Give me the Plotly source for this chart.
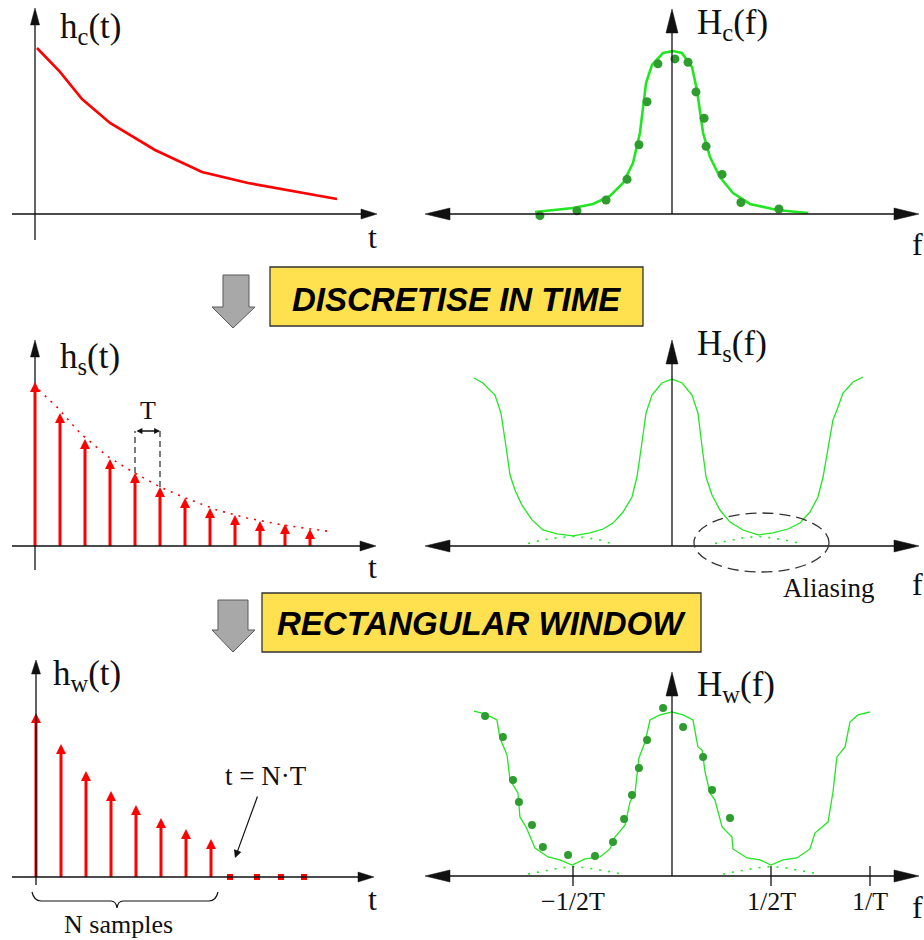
import plotly.graph_objects as go

W, H = 924, 940

# ---------------- data ----------------
# (1) continuous impulse response h_c(t); t in units of T, amplitude normalised
hc_t = [0.08, 1.0, 1.88, 3.0, 4.8, 6.68, 8.52, 12.08]
hc_v = [1.006, 0.861, 0.697, 0.552, 0.388, 0.255, 0.188, 0.091]

# (2) spectrum H_c(f); f in units of 1/T
Hc_f = [-0.692, -0.5, -0.399, -0.313, -0.247, -0.197, -0.162, -0.131, -0.101, -0.045,
        0.005, 0.05, 0.101, 0.126, 0.157, 0.192, 0.242, 0.308, 0.394, 0.53, 0.687]
Hc_v = [0.012, 0.036, 0.061, 0.109, 0.188, 0.309, 0.491, 0.794, 0.903, 0.976,
        0.988, 0.976, 0.891, 0.752, 0.491, 0.345, 0.224, 0.127, 0.061, 0.024, 0.006]
Hc_dot_f = [-0.667, -0.48, -0.333, -0.227, -0.167, -0.126, -0.071, 0.015, 0.081,
            0.121, 0.162, 0.172, 0.253, 0.348, 0.54]
Hc_dot_v = [-0.01, 0.02, 0.085, 0.21, 0.42, 0.68, 0.91, 0.94, 0.92,
            0.74, 0.58, 0.41, 0.24, 0.07, 0.03]

# (3) sampled response h_s(nT)
hs_n = [0, 1, 2, 3, 4, 5, 6, 7, 8, 9, 10, 11]
hs_v = [0.994, 0.806, 0.648, 0.527, 0.442, 0.358, 0.291, 0.230, 0.188, 0.152, 0.133, 0.103]
env_t = [0.16, 0.92, 1.8, 2.88, 3.92, 5.0, 5.92, 7.28, 8.48, 9.92, 11.92]
env_v = [0.945, 0.836, 0.685, 0.545, 0.448, 0.358, 0.297, 0.218, 0.17, 0.127, 0.085]

# (4) periodic spectrum H_s(f)
Hs_f = [-1.0, -0.955, -0.894, -0.864, -0.838, -0.818, -0.793, -0.758, -0.707, -0.652,
        -0.581, -0.5, -0.414, -0.348, -0.298, -0.247, -0.202, -0.177, -0.157, -0.131,
        -0.101, -0.051, 0.0, 0.051, 0.101, 0.131, 0.152, 0.172, 0.202, 0.242,
        0.293, 0.359, 0.434, 0.51, 0.586, 0.646, 0.697, 0.737, 0.763, 0.788,
        0.813, 0.833, 0.864, 0.914, 0.965]
Hs_v = [1.018, 0.988, 0.915, 0.806, 0.6, 0.43, 0.339, 0.248, 0.158, 0.097,
        0.073, 0.061, 0.079, 0.103, 0.139, 0.206, 0.297, 0.418, 0.582, 0.806,
        0.915, 0.988, 1.012, 0.988, 0.915, 0.806, 0.6, 0.418, 0.309, 0.218,
        0.145, 0.097, 0.067, 0.079, 0.103, 0.139, 0.206, 0.297, 0.418, 0.594,
        0.764, 0.824, 0.927, 0.994, 1.024]
Hs_tail_left_f = [-0.727, -0.66, -0.58, -0.5, -0.43, -0.36, -0.308]
Hs_tail_right_f = [0.217, 0.29, 0.36, 0.434, 0.5, 0.575, 0.646]
Hs_tail_v = [0.015, 0.035, 0.05, 0.058, 0.05, 0.035, 0.015]

# (5) windowed response h_w(nT)
hw_n = [0, 1, 2, 3, 4, 5, 6, 7]
hw_v = [0.994, 0.806, 0.642, 0.521, 0.436, 0.358, 0.291, 0.230]
hw_zero_t = [7.76, 8.84, 9.8, 10.72]
hw_zero_v = [0, 0, 0, 0]

# (6) spectrum H_w(f) with ripple
Hw_f = [-1.0, -0.944, -0.884, -0.869, -0.833, -0.818, -0.778, -0.768, -0.737, -0.692,
        -0.626, -0.566, -0.505, -0.439, -0.364, -0.313, -0.288, -0.237, -0.212, -0.187,
        -0.167, -0.136, -0.111, -0.061, 0.0, 0.056, 0.106, 0.131, 0.152, 0.167,
        0.192, 0.217, 0.253, 0.303, 0.308, 0.379, 0.444, 0.5, 0.561, 0.631,
        0.697, 0.722, 0.788, 0.813, 0.833, 0.874, 0.899, 0.939, 1.0]
Hw_v = [1.006, 0.988, 0.951, 0.841, 0.738, 0.585, 0.506, 0.36, 0.299, 0.171,
        0.116, 0.098, 0.067, 0.104, 0.116, 0.165, 0.238, 0.311, 0.451, 0.506,
        0.72, 0.817, 0.951, 0.982, 1.0, 0.982, 0.951, 0.787, 0.768, 0.634,
        0.506, 0.463, 0.299, 0.238, 0.165, 0.11, 0.098, 0.067, 0.098, 0.11,
        0.165, 0.262, 0.329, 0.512, 0.726, 0.787, 0.939, 0.982, 1.0]
Hw_dot_f = [-0.944, -0.854, -0.803, -0.773, -0.707, -0.652, -0.525, -0.389, -0.298,
            -0.242, -0.202, -0.167, -0.126, -0.045, 0.056, 0.157, 0.202, 0.293]
Hw_dot_v = [0.976, 0.848, 0.585, 0.451, 0.311, 0.177, 0.128, 0.122, 0.207,
            0.348, 0.494, 0.659, 0.829, 1.024, 0.909, 0.726, 0.524, 0.354]
Hw_tail_left_f = [-0.727, -0.65, -0.57, -0.5, -0.42, -0.33, -0.253]
Hw_tail_right_f = [0.258, 0.34, 0.42, 0.5, 0.58, 0.66, 0.742]
Hw_tail_v = [0.012, 0.03, 0.048, 0.058, 0.048, 0.03, 0.012]

Hw_ticks = [-0.5, 0.5, 1.0]
Hw_tick_labels = ["\u22121/2T", "1/2T", "1/T"]

# ---------------- layout geometry (pixels) ----------------
panels = {
    1: dict(ox=35, oy=214, sx=25, sy=165, box=(0, 0, 410, 258)),
    2: dict(ox=672, oy=214, sx=198, sy=165, box=(415, 0, 924, 258)),
    3: dict(ox=35, oy=546, sx=25, sy=165, box=(0, 330, 410, 592)),
    4: dict(ox=672, oy=546, sx=198, sy=165, box=(415, 330, 924, 600)),
    5: dict(ox=36, oy=877, sx=25, sy=165, box=(0, 655, 410, 940)),
    6: dict(ox=672, oy=876, sx=198, sy=164, box=(415, 655, 924, 940)),
}

RED = "#ff0000"
GREEN = "#22e622"
DKGREEN = "#2e9c2e"
SERIF = "Liberation Serif, Times New Roman, serif"
SANS = "Liberation Sans, Arial, sans-serif"


def P(x):
    return x / W


def Q(y):
    return 1 - y / H


fig = go.Figure()
layout_axes = {}
for i, p in panels.items():
    bx0, by0, bx1, by1 = p["box"]
    xr = [(bx0 - p["ox"]) / p["sx"], (bx1 - p["ox"]) / p["sx"]]
    yr = [(p["oy"] - by1) / p["sy"], (p["oy"] - by0) / p["sy"]]
    sfx = "" if i == 1 else str(i)
    layout_axes["xaxis" + sfx] = dict(domain=[bx0 / W, bx1 / W], range=xr, visible=False,
                                      fixedrange=True, anchor="y" + sfx)
    layout_axes["yaxis" + sfx] = dict(domain=[1 - by1 / H, 1 - by0 / H], range=yr, visible=False,
                                      fixedrange=True, anchor="x" + sfx)


def ax_ids(i):
    sfx = "" if i == 1 else str(i)
    return dict(xaxis="x" + sfx, yaxis="y" + sfx)


def add(i, **kw):
    kw.setdefault("showlegend", False)
    kw.setdefault("hoverinfo", "skip")
    kw.setdefault("cliponaxis", False)
    fig.add_trace(go.Scatter(**kw, **ax_ids(i)))


def stems(i, ts, vs, head_px=8):
    sy = panels[i]["sy"]
    xs, ys = [], []
    for t, v in zip(ts, vs):
        xs += [t, t, None]
        ys += [0, v - head_px / sy, None]
    add(i, x=xs, y=ys, mode="lines", line=dict(color=RED, width=3))
    add(i, x=ts, y=vs, mode="markers",
        marker=dict(symbol="arrow-up", size=10, color=RED, line=dict(width=0)))


# panel 1
add(1, x=hc_t, y=hc_v, mode="lines", line=dict(color=RED, width=2.6))
# panel 2
add(2, x=Hc_f, y=Hc_v, mode="lines", line=dict(color=GREEN, width=2.6))
add(2, x=Hc_dot_f, y=Hc_dot_v, mode="markers", marker=dict(color=DKGREEN, size=9, line=dict(width=0)))
# panel 3
add(3, x=env_t, y=env_v, mode="lines", line=dict(color=RED, width=1.6, dash="2px,6px"))
stems(3, hs_n, hs_v)
# panel 4
add(4, x=Hs_f, y=Hs_v, mode="lines", line=dict(color=GREEN, width=1.3))
add(4, x=Hs_tail_left_f, y=Hs_tail_v, mode="lines", line=dict(color=GREEN, width=1.6, dash="2px,7px"))
add(4, x=Hs_tail_right_f, y=Hs_tail_v, mode="lines", line=dict(color=GREEN, width=1.6, dash="2px,7px"))
# panel 5
stems(5, hw_n, hw_v)
add(5, x=hw_zero_t, y=hw_zero_v, mode="markers",
    marker=dict(symbol="square", size=6, color=RED, line=dict(width=0)))
# panel 6
add(6, x=Hw_f, y=Hw_v, mode="lines", line=dict(color=GREEN, width=1.3))
add(6, x=Hw_tail_left_f, y=Hw_tail_v, mode="lines", line=dict(color=GREEN, width=1.6, dash="2px,7px"))
add(6, x=Hw_tail_right_f, y=Hw_tail_v, mode="lines", line=dict(color=GREEN, width=1.6, dash="2px,7px"))
add(6, x=Hw_dot_f, y=Hw_dot_v, mode="markers", marker=dict(color=DKGREEN, size=8, line=dict(width=0)))

# ---------------- decorations ----------------
shapes = []
annots = []


def seg(x0, y0, x1, y1, width=1.3, color="#111", dash=None, layer="above"):
    ln = dict(color=color, width=width)
    if dash:
        ln["dash"] = dash
    shapes.append(dict(type="line", xref="paper", yref="paper", x0=P(x0), y0=Q(y0),
                       x1=P(x1), y1=Q(y1), line=ln, layer=layer))


def poly(pts, fill, lc, lw=1, layer="above"):
    path = "M" + "L".join(f"{P(x):.5f},{Q(y):.5f}" for x, y in pts) + "Z"
    shapes.append(dict(type="path", xref="paper", yref="paper", path=path,
                       fillcolor=fill, line=dict(color=lc, width=lw), layer=layer))


def head(tx, ty, d, L, w):
    if d == "up":
        pts = [(tx, ty), (tx - w / 2, ty + L), (tx + w / 2, ty + L)]
    elif d == "right":
        pts = [(tx, ty), (tx - L, ty - w / 2), (tx - L, ty + w / 2)]
    else:
        pts = [(tx, ty), (tx + L, ty - w / 2), (tx + L, ty + w / 2)]
    poly(pts, "#111", "#111", 0.5)


# axes of left (time) panels
for i, vbot, vtop, hleft, hright, layer, hl, hw_ in [
        (1, 240, 8, 12, 377, "below", 17, 9),
        (3, 570, 340, 12, 376, "below", 17, 9),
        (5, 885, 660, 12, 374, "above", 14, 9)]:
    ox, oy = panels[i]["ox"], panels[i]["oy"]
    seg(ox, vbot, ox, vtop + 4, layer=layer)
    seg(hleft, oy, hright - 4, oy)
    head(ox, vtop, "up", hl, hw_)
    head(hright, oy, "right", 16, 10)

# axes of right (frequency) panels
for i, vtop in [(2, 9), (4, 340), (6, 672)]:
    ox, oy = panels[i]["ox"], panels[i]["oy"]
    seg(ox, oy, ox, vtop + 4)
    seg(429, oy, 915, oy)
    head(ox, vtop, "up", 24, 12)
    head(919, oy, "right", 25, 12)
    head(425, oy, "left", 25, 12)

# ticks on H_w axis
p6 = panels[6]
for f in Hw_ticks:
    shapes.append(dict(type="line", xref="x6", yref="y6", x0=f, x1=f,
                       y0=-10 / p6["sy"], y1=10 / p6["sy"], line=dict(color="#111", width=1.3)))
for f, lab in zip(Hw_ticks, Hw_tick_labels):
    annots.append(dict(xref="x6", yref="paper", x=f, y=Q(901), text=lab, showarrow=False,
                       xanchor="center", yanchor="middle",
                       font=dict(family=SERIF, size=26, color="#111")))

# T spacing marker on h_s(t)
p3 = panels[3]
lvl = (p3["oy"] - 431) / p3["sy"]
for n in (4, 5):
    shapes.append(dict(type="line", xref="x3", yref="y3", x0=hs_n[n], x1=hs_n[n],
                       y0=hs_v[n], y1=lvl, line=dict(color="#444", width=1.4, dash="6px,4px")))
annots.append(dict(xref="x3", yref="y3", x=hs_n[5], y=lvl, ax=hs_n[4], ay=lvl,
                   axref="x3", ayref="y3", text="", showarrow=True, arrowside="end+start",
                   arrowhead=2, startarrowhead=2, arrowsize=0.9, startarrowsize=0.9,
                   arrowwidth=1.3, arrowcolor="#111"))

# Aliasing ellipse
shapes.append(dict(type="circle", xref="paper", yref="paper", x0=P(694), x1=P(829),
                   y0=Q(572), y1=Q(513), line=dict(color="#333", width=1.3, dash="11px,6px")))

# brace under N samples
bp = [("M", 32, 892), ("Q", 34, 901, 41, 901), ("L", 111, 901), ("Q", 116, 901, 117, 908),
      ("Q", 118, 901, 123, 901), ("L", 209, 901), ("Q", 216, 901, 218, 892)]
path = ""
for seg_ in bp:
    cmd, *vals = seg_
    coords = []
    for k in range(0, len(vals), 2):
        coords.append(f"{P(vals[k]):.5f},{Q(vals[k + 1]):.5f}")
    path += cmd + " ".join(coords)
shapes.append(dict(type="path", xref="paper", yref="paper", path=path,
                   line=dict(color="#111", width=1.2)))

# t = N.T arrow
annots.append(dict(xref="paper", yref="paper", x=P(235), y=Q(858), ax=23, ay=-63,
                   text="", showarrow=True, arrowhead=2, arrowsize=1.3, arrowwidth=1.2,
                   arrowcolor="#111"))

# gray process arrows
poly([(223, 275), (249, 275), (249, 307), (255, 307), (233, 328), (212, 307), (223, 307)],
     "#a8a8a8", "#5a5a5a", 1)
poly([(218, 600), (248, 600), (248, 630), (255, 630), (233, 652), (212, 630), (218, 630)],
     "#a8a8a8", "#5a5a5a", 1)

# yellow boxes
for x0, y0, x1, y1 in [(270, 267, 643, 326), (262, 593, 701, 652)]:
    shapes.append(dict(type="rect", xref="paper", yref="paper", x0=P(x0), x1=P(x1),
                       y0=Q(y1), y1=Q(y0), fillcolor="#ffe14f",
                       line=dict(color="#333", width=1.3)))


def text(x, y, s, size, family=SERIF, xanchor="left", color="#111"):
    annots.append(dict(xref="paper", yref="paper", x=P(x), y=Q(y), text=s, showarrow=False,
                       xanchor=xanchor, yanchor="middle",
                       font=dict(family=family, size=size, color=color)))


text(456, 299, "<b><i>DISCRETISE IN TIME</i></b>", 33, SANS, "center", "#000")
text(481, 623, "<b><i>RECTANGULAR WINDOW</i></b>", 33, SANS, "center", "#000")

text(58, 28, "h<sub>c</sub>(t)", 35)
text(695, 24, "H<sub>c</sub>(f)", 35)
text(58, 358, "h<sub>s</sub>(t)", 35)
text(695, 346, "H<sub>s</sub>(f)", 35)
text(51, 675, "h<sub>w</sub>(t)", 35)
text(695, 686, "H<sub>w</sub>(f)", 35)

text(366, 237, "t", 32)
text(910, 244, "f", 32)
text(366, 567, "t", 32)
text(910, 584, "f", 32)
text(366, 899, "t", 32)
text(910, 907, "f", 32)

text(829, 588, "Aliasing", 27, xanchor="center")
text(148, 410, "T", 26, xanchor="center")
text(266, 776, "t = N\u00b7T", 27, xanchor="center")
text(118, 924, "N samples", 26, xanchor="center")

fig.update_layout(
    width=W, height=H, autosize=False,
    margin=dict(l=0, r=0, t=0, b=0),
    paper_bgcolor="white", plot_bgcolor="rgba(0,0,0,0)",
    shapes=shapes, annotations=annots,
    **layout_axes,
)

fig.write_html("out.html", config={"displayModeBar": False})
